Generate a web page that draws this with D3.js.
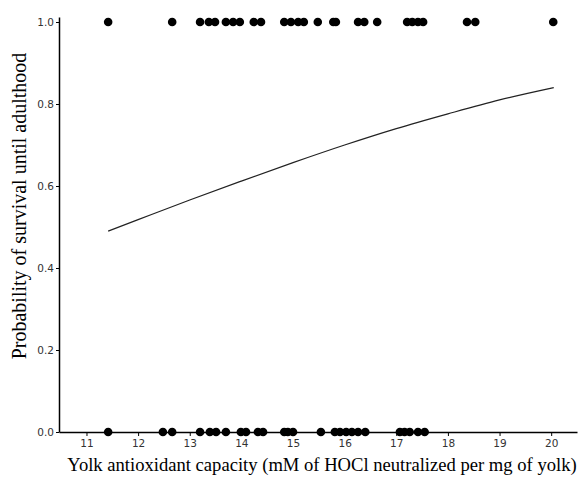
<!DOCTYPE html>
<html>
<head>
<meta charset="utf-8">
<script src="https://cdn.jsdelivr.net/npm/d3@7"></script>
<style>
  body { margin: 0; background: #fff; }
  .tick text { font-family: "DejaVu Sans", Verdana, sans-serif; font-size: 10.5px; fill: #333; }
  .title { font-family: "Liberation Serif", "Times New Roman", serif; fill: #000; }
</style>
</head>
<body>
<div id="chart"></div>
<script>
// survivors (y = 1) and non-survivors (y = 0), yolk antioxidant capacity
const survived = [11.42, 12.66, 13.20, 13.37, 13.49, 13.70, 13.84, 13.97, 14.24, 14.38,
  14.83, 14.96, 15.10, 15.21, 15.48, 15.78, 15.83, 16.26, 16.38, 16.63,
  17.21, 17.31, 17.42, 17.52, 18.37, 18.53, 20.04];
const died = [11.42, 12.48, 12.66, 13.20, 13.39, 13.51, 13.70, 13.99, 14.09, 14.32, 14.42,
  14.83, 14.90, 15.00, 15.54, 15.81, 15.91, 16.03, 16.14, 16.26, 16.40,
  17.07, 17.16, 17.26, 17.42, 17.55];

// fitted probability curve
const fitX = [11.42, 12, 13, 14, 15, 16, 17, 18, 19, 20.05];
const fitP = [0.49, 0.518, 0.566, 0.612, 0.657, 0.700, 0.740, 0.776, 0.810, 0.840];

const xTicks = [11, 12, 13, 14, 15, 16, 17, 18, 19, 20];
const yTicks = [0, 0.2, 0.4, 0.6, 0.8, 1.0];

const width = 580, height = 477;
const margin = {top: 17, right: 3, bottom: 45, left: 59};

const svg = d3.select('#chart')
  .append('svg')
  .attr('width', width)
  .attr('height', height);

const x = d3.scaleLinear()
  .domain([10.468, 20.5])
  .range([margin.left, width - margin.right]);

const y = d3.scaleLinear()
  .domain([0, 1.0122])
  .range([height - margin.bottom, margin.top]);

// curve
const line = d3.line()
  .x((d, i) => x(fitX[i]))
  .y(d => y(d))
  .curve(d3.curveMonotoneX);

svg.append('path')
  .datum(fitP)
  .attr('fill', 'none')
  .attr('stroke', '#222')
  .attr('stroke-width', 1.2)
  .attr('d', line);

// axes
const xAxis = svg.append('g')
  .attr('transform', `translate(0,${height - margin.bottom})`)
  .call(d3.axisBottom(x).tickValues(xTicks).tickSize(4).tickPadding(3).tickSizeOuter(0));

const yAxis = svg.append('g')
  .attr('transform', `translate(${margin.left},0)`)
  .call(d3.axisLeft(y).tickValues(yTicks).tickFormat(d3.format('.1f')).tickSize(3).tickPadding(2).tickSizeOuter(0));

[xAxis, yAxis].forEach(g => {
  g.select('.domain').attr('stroke', '#000').attr('stroke-width', 1.5);
  g.selectAll('.tick line').attr('stroke', '#000');
});
xAxis.selectAll('.tick text').attr('dy', '0.75em');

// points
const dots = svg.append('g');
dots.selectAll('circle.s')
  .data(survived)
  .join('circle')
  .attr('class', 's')
  .attr('cx', d => x(d))
  .attr('cy', y(1))
  .attr('r', 4.3)
  .attr('fill', '#000');

dots.selectAll('circle.d')
  .data(died)
  .join('circle')
  .attr('class', 'd')
  .attr('cx', d => x(d))
  .attr('cy', y(0))
  .attr('r', 4.3)
  .attr('fill', '#000');

// titles
svg.append('text')
  .attr('class', 'title')
  .attr('x', 322)
  .attr('y', 471)
  .attr('font-size', 18.6)
  .attr('text-anchor', 'middle')
  .text('Yolk antioxidant capacity (mM of HOCl neutralized per mg of yolk)');

svg.append('text')
  .attr('class', 'title')
  .attr('transform', 'translate(26,206) rotate(-90)')
  .attr('font-size', 20)
  .attr('text-anchor', 'middle')
  .text('Probability of survival until adulthood');
</script>
</body>
</html>
